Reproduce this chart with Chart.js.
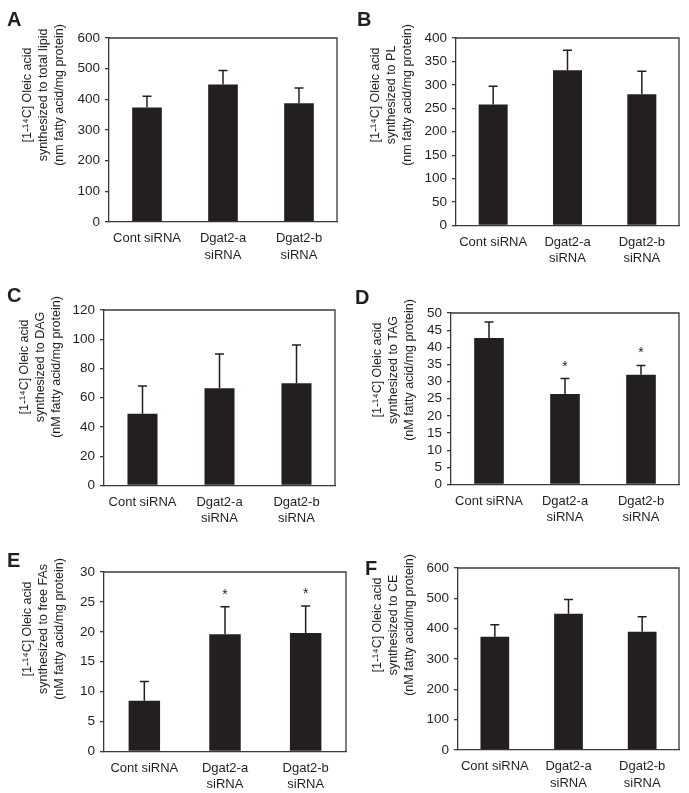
<!DOCTYPE html>
<html><head><meta charset="utf-8">
<script src="https://cdn.jsdelivr.net/npm/chart.js@4.4.0/dist/chart.umd.min.js"></script>
<style>
html,body{margin:0;padding:0;background:#fff;}
#wrap{position:relative;width:689px;height:793px;overflow:hidden;background:#fff;}
#wrap canvas{position:absolute;left:0;top:0;}
.lbl{position:absolute;font:bold 20px "Liberation Sans",Arial,sans-serif;color:#231f20;line-height:1;}
</style></head><body>
<div id="wrap"></div>
<script>
// ---------- data ----------
const categories = [["Cont siRNA"], ["Dgat2-a", "siRNA"], ["Dgat2-b", "siRNA"]];
const panelLetters = ["A", "B", "C", "D", "E", "F"];

const totalLipidMean = [373, 448, 387];
const totalLipidSD   = [37, 46, 50];
const plMean  = [258, 331, 280];
const plSD    = [39, 43, 49];
const dagMean = [49, 66.5, 70];
const dagSD   = [19, 23.5, 26];
const tagMean = [42.7, 26.4, 32];
const tagSD   = [4.7, 4.5, 2.7];
const ffaMean = [8.5, 19.6, 19.8];
const ffaSD   = [3.2, 4.6, 4.5];
const ceMean  = [373, 449, 390];
const ceSD    = [40, 47, 49];

const tagSignificant = [false, true, true];
const ffaSignificant = [false, true, true];
const noneSignificant = [false, false, false];

const yMax  = [600, 400, 120, 50, 30, 600];
const yStep = [100, 50, 20, 5, 5, 100];

const yTitles = [
  ["[1-\u00B9\u2074C] Oleic acid", "synthesized to total lipid", "(nm fatty acid/mg protein)"],
  ["[1-\u00B9\u2074C] Oleic acid", "synthesized to PL", "(nm fatty acid/mg protein)"],
  ["[1-\u00B9\u2074C] Oleic acid", "synthesized to DAG", "(nM fatty acid/mg protein)"],
  ["[1-\u00B9\u2074C] Oleic acid", "synthesized to TAG", "(nM fatty acid/mg protein)"],
  ["[1-\u00B9\u2074C] Oleic acid", "synthesized to free FAs", "(nM fatty acid/mg protein)"],
  ["[1-\u00B9\u2074C] Oleic acid", "synthesized to CE", "(nM fatty acid/mg protein)"]
];

const panelMeans = [totalLipidMean, plMean, dagMean, tagMean, ffaMean, ceMean];
const panelSDs   = [totalLipidSD, plSD, dagSD, tagSD, ffaSD, ceSD];
const panelSig   = [noneSignificant, noneSignificant, noneSignificant, tagSignificant, ffaSignificant, noneSignificant];

// ---------- layout (plot areas, px) ----------
const W = 689, H = 793;
const layoutBoxes = [
  {L:109, T:38,  R:337, B:222,   titleX:28,  letter:[7, 9]},
  {L:456, T:38,  R:679, B:225.5, titleX:376, letter:[357, 9]},
  {L:104, T:310, R:335, B:485.5, titleX:25,  letter:[7, 285]},
  {L:451, T:313, R:679, B:484.5, titleX:378, letter:[355, 287]},
  {L:104, T:572, R:346, B:751.5, titleX:28,  letter:[7, 550]},
  {L:458, T:568, R:679, B:750,   titleX:378, letter:[365, 558]}
];
const YW = 45, XH = 40;
const INK = '#231f20', AXIS = '#3a3a3a';
const FONT = '"Liberation Sans", Arial, Helvetica, sans-serif';

const decor = {
  id: 'decor',
  afterDatasetsDraw(chart, args, opts) {
    const ctx = chart.ctx, y = chart.scales.y, a = chart.chartArea;
    const meta = chart.getDatasetMeta(0);
    ctx.save();
    // error bars
    ctx.strokeStyle = INK; ctx.lineWidth = 1.5;
    opts.means.forEach((m, i) => {
      const x = meta.data[i].x;
      const y0 = y.getPixelForValue(m), y1 = y.getPixelForValue(m + opts.sds[i]);
      ctx.beginPath();
      ctx.moveTo(x, y0); ctx.lineTo(x, y1);
      ctx.moveTo(x - 4.5, y1); ctx.lineTo(x + 4.5, y1);
      ctx.stroke();
      if (opts.sig[i]) {
        ctx.fillStyle = INK;
        ctx.font = '14px ' + FONT;
        ctx.textAlign = 'center'; ctx.textBaseline = 'alphabetic';
        ctx.fillText('*', x, y1 - 8);
      }
    });
    // frame top & right
    ctx.strokeStyle = AXIS; ctx.lineWidth = 1.3;
    ctx.beginPath();
    ctx.moveTo(a.left, a.top); ctx.lineTo(a.right, a.top); ctx.lineTo(a.right, a.bottom);
    ctx.stroke();
    // y title
    ctx.fillStyle = INK;
    ctx.font = '12.5px ' + FONT;
    ctx.textAlign = 'center'; ctx.textBaseline = 'middle';
    const cy = a.top + 57;
    opts.title.forEach((t, k) => {
      ctx.save();
      ctx.translate(opts.titleX + k * 16, cy);
      ctx.rotate(-Math.PI / 2);
      ctx.fillText(t, 0, 0);
      ctx.restore();
    });
    ctx.restore();
  }
};

const wrap = document.getElementById('wrap');
layoutBoxes.forEach((b, p) => {
  const cv = document.createElement('canvas');
  cv.width = W; cv.height = H;
  cv.style.width = W + 'px'; cv.style.height = H + 'px';
  wrap.appendChild(cv);
  const d = document.createElement('div');
  d.className = 'lbl';
  d.textContent = panelLetters[p];
  d.style.left = b.letter[0] + 'px'; d.style.top = b.letter[1] + 'px';
  wrap.appendChild(d);

  new Chart(cv, {
    type: 'bar',
    data: {
      labels: categories,
      datasets: [{
        data: panelMeans[p],
        backgroundColor: INK,
        borderWidth: 0,
        barPercentage: 0.39,
        categoryPercentage: 1.0
      }]
    },
    options: {
      responsive: false,
      animation: false,
      devicePixelRatio: 1,
      events: [],
      layout: {padding: {left: b.L - YW, top: b.T, right: W - b.R, bottom: Math.max(0, H - b.B - XH)}},
      plugins: {
        legend: {display: false},
        tooltip: {enabled: false},
        decor: {means: panelMeans[p], sds: panelSDs[p], sig: panelSig[p], title: yTitles[p], titleX: b.titleX}
      },
      scales: {
        x: {
          offset: true,
          grid: {display: false, drawTicks: false},
          border: {display: true, color: AXIS, width: 1.3},
          ticks: {color: INK, font: {family: FONT, size: 13, lineHeight: 1.3}, padding: 8, maxRotation: 0, autoSkip: false},
          afterFit(s) { s.height = XH; }
        },
        y: {
          min: 0, max: yMax[p],
          ticks: {stepSize: yStep[p], autoSkip: false, color: INK, font: {family: FONT, size: 13.5}, padding: 5},
          grid: {drawOnChartArea: false, drawTicks: true, tickLength: 4, color: AXIS, lineWidth: 1.3},
          border: {display: true, color: AXIS, width: 1.3},
          afterFit(s) { s.width = YW; }
        }
      }
    },
    plugins: [decor]
  });
});
</script>
</body></html>
